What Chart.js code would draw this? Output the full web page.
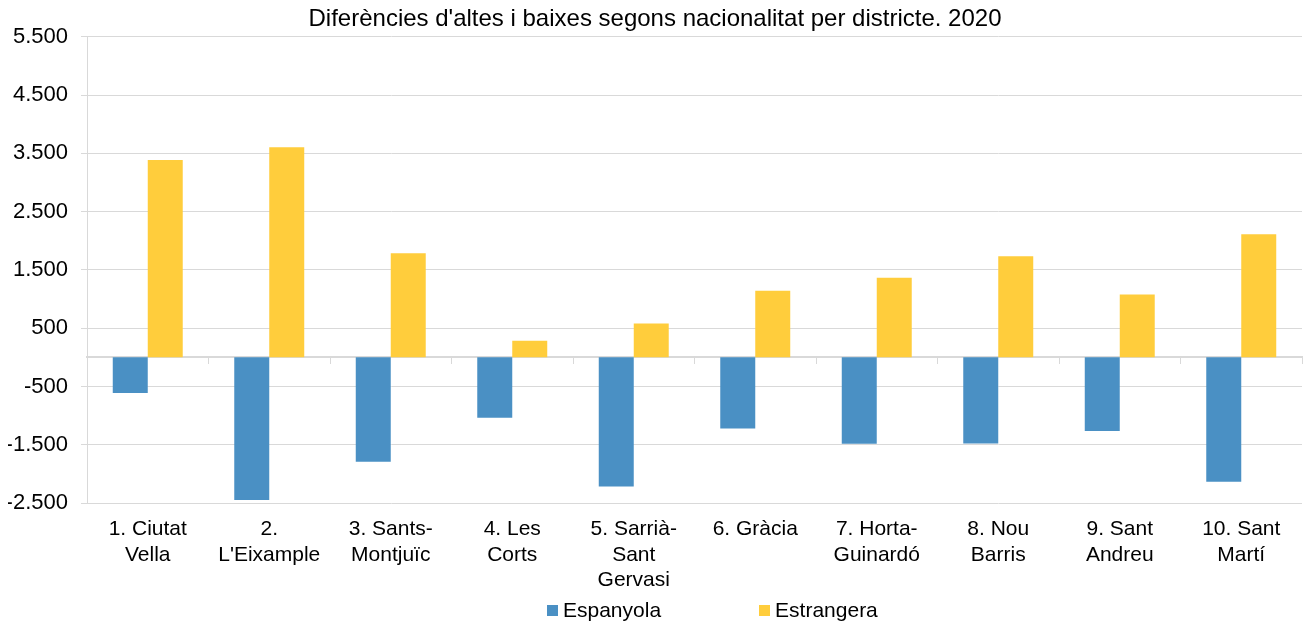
<!DOCTYPE html>
<html>
<head>
<meta charset="utf-8">
<title>Diferències d'altes i baixes segons nacionalitat per districte. 2020</title>
<script src="https://cdn.jsdelivr.net/npm/chart.js@4.4.1/dist/chart.umd.min.js"></script>
<style>
  html, body { margin: 0; padding: 0; background: #fff; }
  #wrap { position: relative; width: 1304px; height: 622px; }
  #legend {
    position: absolute; left: 547px; top: 598px;
    display: flex; align-items: center; gap: 98px;
    font: 21px "Liberation Sans", Arial, sans-serif; color: #000;
  }
  #legend .item { display: flex; align-items: center; }
  #legend .box { width: 11px; height: 11px; margin-right: 5px; }
</style>
</head>
<body>
<div id="wrap">
  <canvas id="chart" width="1304" height="622"></canvas>
  <div id="legend"></div>
</div>
<script>
const districtes = [
  ['1. Ciutat', 'Vella'],
  ['2.', "L'Eixample"],
  ['3. Sants-', 'Montjuïc'],
  ['4. Les', 'Corts'],
  ['5. Sarrià-', 'Sant', 'Gervasi'],
  ['6. Gràcia'],
  ['7. Horta-', 'Guinardó'],
  ['8. Nou', 'Barris'],
  ['9. Sant', 'Andreu'],
  ['10. Sant', 'Martí']
];
const espanyola = [-614, -2450, -1792, -1038, -2216, -1221, -1484, -1478, -1266, -2136];
const estrangera = [3388, 3605, 1787, 283, 580, 1141, 1364, 1736, 1078, 2113];
const yMin = -2500;
const yMax = 5500;
const yStep = 1000;

const blue = '#4a90c4';
const yellow = '#ffcd3c';
const grey = '#d9d9d9';
const font = '"Liberation Sans", Arial, sans-serif';

function fmt(v) {
  return String(v).replace(/\B(?=(\d{3})+(?!\d))/g, '.');
}

const series = [
  { label: 'Espanyola', data: espanyola, color: blue },
  { label: 'Estrangera', data: estrangera, color: yellow }
];

new Chart(document.getElementById('chart').getContext('2d'), {
  type: 'bar',
  data: {
    labels: districtes,
    datasets: series.map(s => ({
      label: s.label,
      data: s.data,
      backgroundColor: s.color,
      borderWidth: 0,
      categoryPercentage: 0.576,
      barPercentage: 1.0
    }))
  },
  options: {
    responsive: false,
    animation: false,
    layout: { padding: { left: 8, right: 2, top: 0, bottom: 0 } },
    plugins: {
      legend: { display: false },
      tooltip: { enabled: false },
      title: {
        display: true,
        text: "Diferències d'altes i baixes segons nacionalitat per districte. 2020",
        color: '#000',
        font: { family: font, size: 24, weight: 'normal' },
        padding: { top: 5, bottom: 3 }
      }
    },
    scales: {
      x: {
        position: 'bottom',
        grid: { display: false },
        border: { display: false },
        afterFit: s => { s.height = 119; },
        ticks: {
          color: '#000',
          font: { family: font, size: 21, lineHeight: 1.2 },
          padding: 6,
          maxRotation: 0,
          autoSkip: false
        }
      },
      x2: {
        type: 'category',
        position: { y: 0 },
        grid: { offset: true, drawOnChartArea: false, tickLength: 6, color: grey },
        border: { color: grey, width: 2 },
        ticks: { display: false }
      },
      y: {
        min: yMin,
        max: yMax,
        grid: { color: grey, tickLength: 6 },
        border: { color: grey },
        afterFit: s => { s.width = 79; },
        ticks: {
          stepSize: yStep,
          color: '#000',
          font: { family: font, size: 22 },
          padding: 13,
          callback: v => fmt(v)
        }
      }
    }
  }
});

const legend = document.getElementById('legend');
series.forEach(s => {
  const item = document.createElement('div');
  item.className = 'item';
  const box = document.createElement('span');
  box.className = 'box';
  box.style.background = s.color;
  const txt = document.createElement('span');
  txt.textContent = s.label;
  item.appendChild(box);
  item.appendChild(txt);
  legend.appendChild(item);
});
</script>
</body>
</html>
